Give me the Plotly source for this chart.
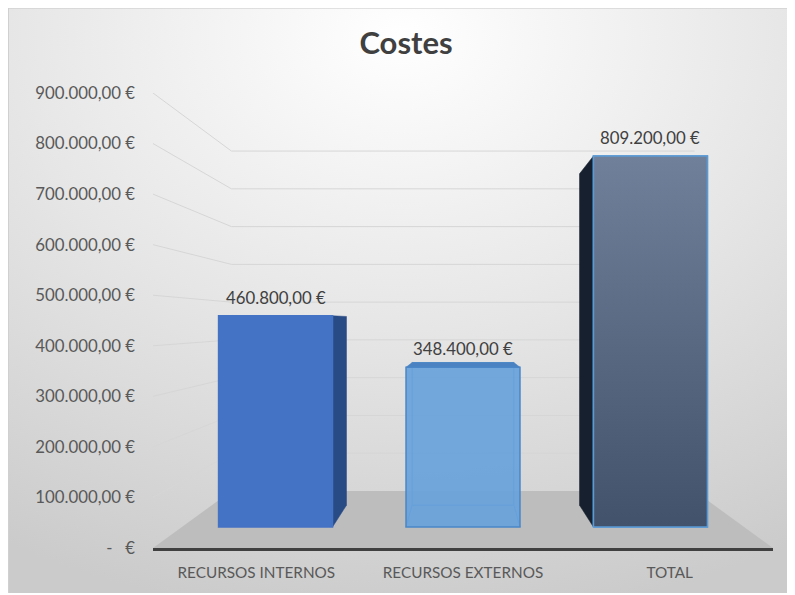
import base64
import plotly.graph_objects as go

# ---------------- data ----------------
categories = ["RECURSOS INTERNOS", "RECURSOS EXTERNOS", "TOTAL"]
costes = [460800, 348400, 809200]
tick_values = [0, 100000, 200000, 300000, 400000, 500000, 600000, 700000, 800000, 900000]
tick_labels = ["-\u00a0\u00a0\u00a0€", "100.000,00 €", "200.000,00 €", "300.000,00 €", "400.000,00 €",
               "500.000,00 €", "600.000,00 €", "700.000,00 €", "800.000,00 €", "900.000,00 €"]
chart_title = "Costes"

# ---------------- styling ----------------
front_colors = ["#4472C4", "rgba(102,161,218,0.9)", "#56657D"]
side_colors = ["#284A85", "#4A82C2", "#17202E"]
outline_colors = ["#4472C4", "#4A86C8", "#5B9BD5"]
gradients = [None, None, ("#42526A", "#70809A")]
translucent = [False, True, False]

FONT = "Lato"
PAGE_W, PAGE_H = 795, 595
OFF = 8                      # page body margin of the html page
W, H = PAGE_W - OFF, PAGE_H - OFF
ML, MR, MT, MB = 153 - OFF, 22, 93 - OFF, 47
Y_MAX = 900000
X_MIN, X_MAX = -0.5, 2.5

# simple perspective: front plane = axes, vanishing point (VX, VV)
VX, VV = 1.0, 446000
S_WALL, S_FRONT, S_BACK = 0.747, 0.907, 0.81
HALF = 0.304


def project(xc, v, s):
    return VX + (xc - VX) * s, VV + (v - VV) * s


def poly(points):
    xs = [p[0] for p in points] + [points[0][0]]
    ys = [p[1] for p in points] + [points[0][1]]
    return xs, ys


def fmt_eur(v):
    s = f"{v:,.2f}".replace(",", "X").replace(".", ",").replace("X", ".")
    return s + " €"


fig = go.Figure()

# floor
fx, fy = poly([project(X_MIN, 0, 1), project(X_MAX, 0, 1),
               project(X_MAX, 0, S_WALL), project(X_MIN, 0, S_WALL)])
fig.add_trace(go.Scatter(x=fx, y=fy, fill="toself", fillcolor="#BDBDBD", mode="lines",
                         line=dict(width=0, color="#BDBDBD"), hoverinfo="skip", showlegend=False))

# gridlines (front-left to back wall)
gx, gy = [], []
for v in tick_values[1:]:
    for p in [project(X_MIN, v, 1), project(X_MIN, v, S_WALL), project(X_MAX, v, S_WALL)]:
        gx.append(p[0]); gy.append(p[1])
    gx.append(None); gy.append(None)
fig.add_trace(go.Scatter(x=gx, y=gy, mode="lines", line=dict(color="#D6D6D6", width=1),
                         hoverinfo="skip", showlegend=False))

# 3D faces of the bars
for i, v in enumerate(costes):
    c = float(i)
    if translucent[i]:
        bx, by = [], []
        for seg in [[project(c - HALF, 0, S_BACK), project(c + HALF, 0, S_BACK),
                     project(c + HALF, v, S_BACK), project(c - HALF, v, S_BACK),
                     project(c - HALF, 0, S_BACK)],
                    [project(c - HALF, 0, S_FRONT), project(c - HALF, 0, S_BACK)],
                    [project(c + HALF, 0, S_FRONT), project(c + HALF, 0, S_BACK)]]:
            for p in seg:
                bx.append(p[0]); by.append(p[1])
            bx.append(None); by.append(None)
        fig.add_trace(go.Scatter(x=bx, y=by, mode="lines", line=dict(color="#5B9BD5", width=1),
                                 hoverinfo="skip", showlegend=False))
    edge = None
    if c < VX:
        edge = c + HALF
    elif c > VX:
        edge = c - HALF
    if edge is not None:
        sx, sy = poly([project(edge, 0, S_FRONT), project(edge, v, S_FRONT),
                       project(edge, v, S_BACK), project(edge, 0, S_BACK)])
        fig.add_trace(go.Scatter(x=sx, y=sy, fill="toself", fillcolor=side_colors[i], mode="lines",
                                 line=dict(width=0.5, color=side_colors[i]),
                                 hoverinfo="skip", showlegend=False))
    if v < VV:
        tx, ty = poly([project(c - HALF, v, S_FRONT), project(c + HALF, v, S_FRONT),
                       project(c + HALF, v, S_BACK), project(c - HALF, v, S_BACK)])
        fig.add_trace(go.Scatter(x=tx, y=ty, fill="toself", fillcolor=side_colors[i], mode="lines",
                                 line=dict(width=0.5, color=side_colors[i]),
                                 hoverinfo="skip", showlegend=False))

# front faces: real bars on the bar-plane axes
fig.add_trace(go.Bar(x=[0, 1, 2], y=costes, width=2 * HALF, xaxis="x2", yaxis="y2",
                     marker=dict(color=front_colors, line=dict(color=outline_colors, width=1.5)),
                     hovertext=categories, showlegend=False))

for i, v in enumerate(costes):
    if gradients[i]:
        c = float(i)
        fig.add_trace(go.Scatter(x=[c - HALF, c + HALF, c + HALF, c - HALF, c - HALF],
                                 y=[0, 0, v, v, 0], xaxis="x2", yaxis="y2",
                                 fill="toself", mode="lines",
                                 fillgradient=dict(type="vertical",
                                                   colorscale=[[0, gradients[i][0]], [1, gradients[i][1]]]),
                                 line=dict(color=outline_colors[i], width=1.5),
                                 hoverinfo="skip", showlegend=False))

# data labels
for i, v in enumerate(costes):
    fig.add_annotation(x=i, y=v, xref="x2", yref="y2", text=fmt_eur(v), showarrow=False,
                       yanchor="bottom", yshift=6, font=dict(family=FONT, size=16.8, color="#404040"))

# background gradient (chart area spans page x 8..795, y 7..593)
bg_w, bg_h = PAGE_W - 8, 593 - 7
svg = ("<svg xmlns='http://www.w3.org/2000/svg' width='%d' height='%d' preserveAspectRatio='none'>"
       "<defs><radialGradient id='g' cx='0.5' cy='0.05' r='1.0'>"
       "<stop offset='0' stop-color='#ffffff'/><stop offset='0.5' stop-color='#e6e6e6'/>"
       "<stop offset='1' stop-color='#cbcbcb'/></radialGradient></defs>"
       "<rect x='0' y='0' width='%d' height='%d' fill='url(#g)'/>"
       "<line x1='0' y1='0.75' x2='%d' y2='0.75' stroke='#c8c8c8' stroke-width='1.5'/>"
       "<line x1='0.5' y1='0' x2='0.5' y2='%d' stroke='#d0d0d0' stroke-width='1'/>"
       "</svg>") % (bg_w, bg_h, bg_w, bg_h, bg_w, bg_h)
src = "data:image/svg+xml;base64," + base64.b64encode(svg.encode()).decode()
pw, ph = W - ML - MR, H - MT - MB
fig.add_layout_image(source=src, xref="paper", yref="paper",
                     x=(8 - OFF - ML) / pw, y=(H - MB - (7 - OFF)) / ph,
                     sizex=bg_w / pw, sizey=bg_h / ph,
                     xanchor="left", yanchor="top", sizing="stretch", layer="below")

fig.update_layout(
    width=W, height=H,
    margin=dict(l=ML, r=MR, t=MT, b=MB, pad=0),
    paper_bgcolor="white", plot_bgcolor="rgba(0,0,0,0)",
    showlegend=False,
    title=dict(text="<b>" + chart_title + "</b>", x=(406 - OFF) / W, y=1 - (43 - OFF) / H,
               xanchor="center", yanchor="middle",
               font=dict(family=FONT, size=31, color="#404040")),
    xaxis=dict(range=[X_MIN, X_MAX], tickvals=[0, 1, 2], ticktext=categories,
               showgrid=False, zeroline=False, showline=True, linecolor="#404040", linewidth=2.5,
               ticks="", ticklabelstandoff=9,
               tickfont=dict(family=FONT, size=15.3, color="#595959"), fixedrange=True),
    yaxis=dict(range=[0, Y_MAX], tickvals=tick_values, ticktext=tick_labels,
               showgrid=False, zeroline=False, showline=False, ticks="", ticklabelstandoff=17,
               tickfont=dict(family=FONT, size=16.8, color="#595959"), fixedrange=True),
    xaxis2=dict(overlaying="x", visible=False,
                range=[VX - (VX - X_MIN) / S_FRONT, VX + (X_MAX - VX) / S_FRONT], fixedrange=True),
    yaxis2=dict(overlaying="y", visible=False,
                range=[(0 - VV * (1 - S_FRONT)) / S_FRONT, (Y_MAX - VV * (1 - S_FRONT)) / S_FRONT],
                fixedrange=True),
)

fig.write_html("out.html")
